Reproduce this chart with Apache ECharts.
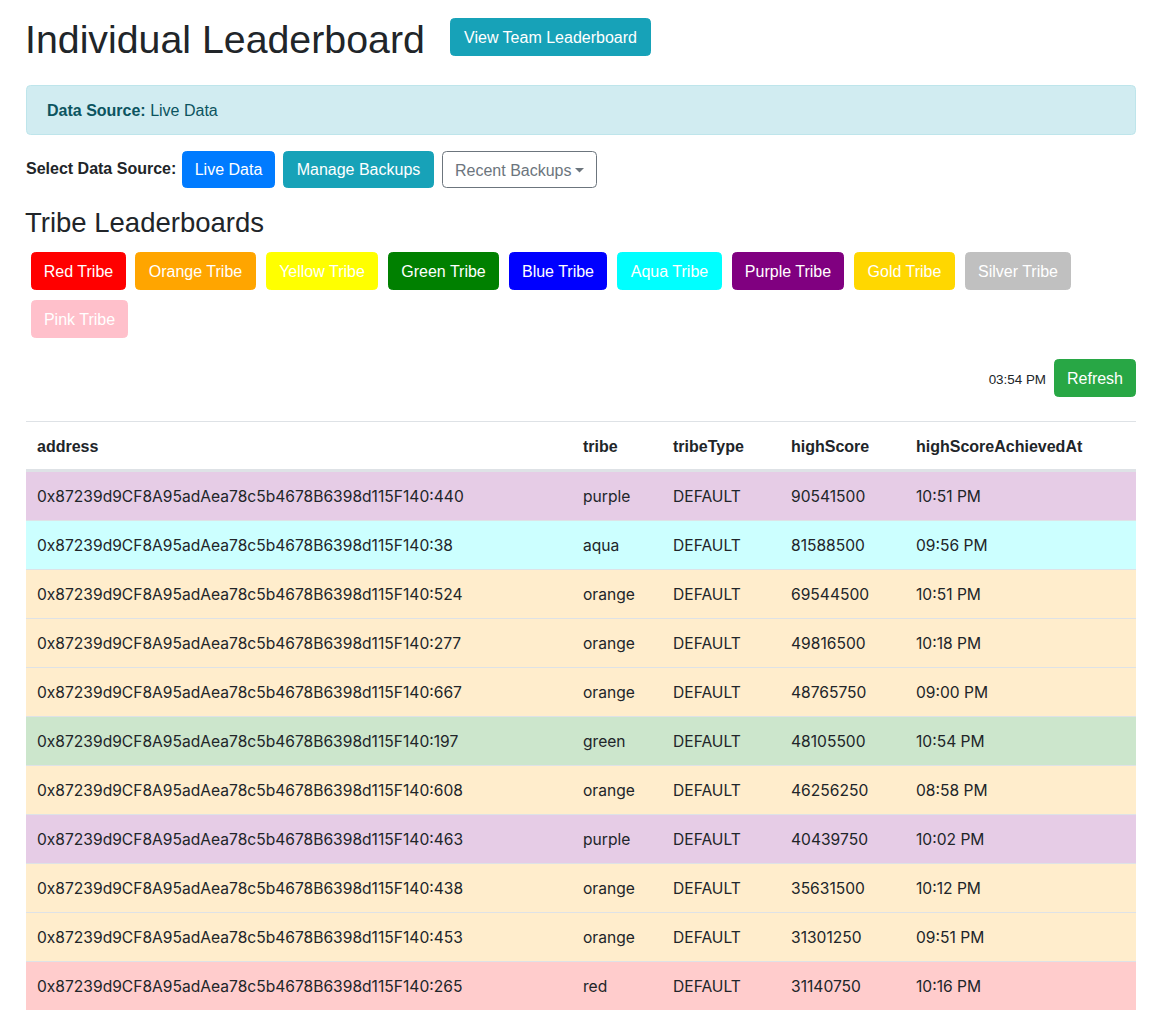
<!DOCTYPE html>
<html>
<head>
<meta charset="utf-8">
<title>Individual Leaderboard</title>
<script src="https://cdn.jsdelivr.net/npm/echarts@6/dist/echarts.min.js"></script>
<style>
  html, body { margin: 0; padding: 0; background: #ffffff; }
  #board { width: 1171px; height: 1010px; }
</style>
</head>
<body>
<div id="board"></div>
<script>
// table data, top to bottom
var columns = ['address', 'tribe', 'tribeType', 'highScore', 'highScoreAchievedAt'];
var addresses = [
    '0x87239d9CF8A95adAea78c5b4678B6398d115F140:440',
    '0x87239d9CF8A95adAea78c5b4678B6398d115F140:38',
    '0x87239d9CF8A95adAea78c5b4678B6398d115F140:524',
    '0x87239d9CF8A95adAea78c5b4678B6398d115F140:277',
    '0x87239d9CF8A95adAea78c5b4678B6398d115F140:667',
    '0x87239d9CF8A95adAea78c5b4678B6398d115F140:197',
    '0x87239d9CF8A95adAea78c5b4678B6398d115F140:608',
    '0x87239d9CF8A95adAea78c5b4678B6398d115F140:463',
    '0x87239d9CF8A95adAea78c5b4678B6398d115F140:438',
    '0x87239d9CF8A95adAea78c5b4678B6398d115F140:453',
    '0x87239d9CF8A95adAea78c5b4678B6398d115F140:265'
];
var tribes = ['purple', 'aqua', 'orange', 'orange', 'orange', 'green', 'orange', 'purple', 'orange', 'orange', 'red'];
var tribeTypes = ['DEFAULT', 'DEFAULT', 'DEFAULT', 'DEFAULT', 'DEFAULT', 'DEFAULT', 'DEFAULT', 'DEFAULT', 'DEFAULT', 'DEFAULT', 'DEFAULT'];
var highScores = [90541500, 81588500, 69544500, 49816500, 48765750, 48105500, 46256250, 40439750, 35631500, 31301250, 31140750];
var achievedAt = ['10:51 PM', '09:56 PM', '10:51 PM', '10:18 PM', '09:00 PM', '10:54 PM', '08:58 PM', '10:02 PM', '10:12 PM', '09:51 PM', '10:16 PM'];

// tribe buttons
var tribeNames = ['Red Tribe', 'Orange Tribe', 'Yellow Tribe', 'Green Tribe', 'Blue Tribe',
    'Aqua Tribe', 'Purple Tribe', 'Gold Tribe', 'Silver Tribe', 'Pink Tribe'];
var tribeColors = {
    red: '#ff0000', orange: '#ffa500', yellow: '#ffff00', green: '#008000', blue: '#0000ff',
    aqua: '#00ffff', purple: '#800080', gold: '#ffd700', silver: '#c0c0c0', pink: '#ffc0cb'
};
var lastUpdated = '03:54 PM';
var dataSource = 'Live Data';

// layout (pixels)
var FONT = '"Liberation Sans", Arial, sans-serif';
var CELL_FONT = '15.6px Inter, "Liberation Sans", Arial, sans-serif';
var colOffsets = [11, 557, 647, 765, 890];
var tribeBtnBoxes = [
    [31, 252, 95], [135, 252, 121], [266, 252, 112], [388, 252, 111], [509, 252, 98],
    [617, 252, 105], [732, 252, 112], [854, 252, 101], [965, 252, 106], [31, 300, 97]
];

function hexAlpha(hex, a) {
    var n = parseInt(hex.slice(1), 16);
    return 'rgba(' + (n >> 16) + ',' + ((n >> 8) & 255) + ',' + (n & 255) + ',' + a + ')';
}

function txt(x, y, text, opts) {
    opts = opts || {};
    return {
        type: 'text',
        style: {
            x: x, y: y, text: text,
            fill: opts.fill || '#212529',
            font: (opts.weight || 'normal') + ' ' + (opts.size || 16) + 'px ' + FONT,
            align: opts.align || 'left', textAlign: opts.align || 'left',
            verticalAlign: 'middle', textVerticalAlign: 'middle'
        }
    };
}

function button(x, y, w, h, fill, label, textColor, stroke) {
    return {
        type: 'group',
        children: [
            {
                type: 'rect',
                shape: { x: x + 0.5, y: y + 0.5, width: w - 1, height: h - 1, r: 4 },
                style: { fill: fill, stroke: stroke || fill, lineWidth: 1 }
            },
            txt(x + w / 2, y + h / 2, label, { fill: textColor || '#ffffff', align: 'center' })
        ]
    };
}

var graphics = [];
graphics.push(txt(25, 39, 'Individual Leaderboard', { size: 39.3 }));
graphics.push(button(450, 18, 201, 38, '#17a2b8', 'View Team Leaderboard'));

graphics.push({
    type: 'rect',
    shape: { x: 26.5, y: 85.5, width: 1109, height: 49, r: 4 },
    style: { fill: '#d1ecf1', stroke: '#bee5eb', lineWidth: 1 }
});
graphics.push({
    type: 'text',
    style: {
        x: 47, y: 110,
        text: '{b|Data Source:} ' + dataSource,
        fill: '#0c5460', font: '16px ' + FONT,
        verticalAlign: 'middle', textVerticalAlign: 'middle',
        rich: { b: { fontWeight: 'bold', fontSize: 16, fontFamily: FONT, fill: '#0c5460', color: '#0c5460' } }
    }
});

graphics.push(txt(26, 168, 'Select Data Source:', { weight: 'bold', size: 16 }));
graphics.push(button(182, 151, 93, 37, '#007bff', 'Live Data'));
graphics.push(button(283, 151, 151, 37, '#17a2b8', 'Manage Backups'));
graphics.push({
    type: 'group',
    children: [
        {
            type: 'rect',
            shape: { x: 442.5, y: 151.5, width: 154, height: 36, r: 4 },
            style: { fill: '#ffffff', stroke: '#6c757d', lineWidth: 1 }
        },
        txt(455, 170, 'Recent Backups', { fill: '#6c757d' }),
        {
            type: 'polygon',
            shape: { points: [[575, 168], [584, 168], [579.5, 172.5]] },
            style: { fill: '#6c757d' }
        }
    ]
});

graphics.push(txt(25, 222, 'Tribe Leaderboards', { size: 27.5 }));
tribeNames.forEach(function (name, i) {
    var b = tribeBtnBoxes[i];
    var key = name.split(' ')[0].toLowerCase();
    graphics.push(button(b[0], b[1], b[2], 38, tribeColors[key], name));
});

graphics.push(txt(1046, 379, lastUpdated, { size: 13.4, align: 'right' }));
graphics.push(button(1054, 359, 82, 38, '#28a745', 'Refresh'));

// table head
graphics.push({ type: 'rect', shape: { x: 26, y: 421, width: 1110, height: 1 }, style: { fill: '#dee2e6' } });
columns.forEach(function (c, i) {
    graphics.push(txt(26 + colOffsets[i], 446, c, { weight: 'bold' }));
});
graphics.push({ type: 'rect', shape: { x: 26, y: 469, width: 1110, height: 2 }, style: { fill: '#dee2e6' } });

var rows = addresses.map(function (a, i) { return [0, i]; });

function renderRow(params, api) {
    var i = api.value(1);
    var c = api.coord([0, i]);
    var h = api.size([0, 1])[1];
    var cs = params.coordSys;
    var top = c[1] - h / 2;
    var cells = [addresses[i], tribes[i], tribeTypes[i], String(highScores[i]), achievedAt[i]];
    var children = [
        {
            type: 'rect',
            shape: { x: cs.x, y: top, width: cs.width, height: h },
            style: { fill: hexAlpha(tribeColors[tribes[i]], 0.2) }
        },
        {
            type: 'rect',
            shape: { x: cs.x, y: top, width: cs.width, height: 1 },
            style: { fill: '#dee2e6' }
        }
    ];
    cells.forEach(function (v, k) {
        children.push({
            type: 'text',
            style: {
                x: cs.x + colOffsets[k], y: top + h / 2 + 0.5, text: v,
                fill: '#212529', font: CELL_FONT,
                align: 'left', textAlign: 'left',
                verticalAlign: 'middle', textVerticalAlign: 'middle'
            }
        });
    });
    return { type: 'group', children: children };
}

var chart = echarts.init(document.getElementById('board'), null, { renderer: 'svg' });
var option = {
    backgroundColor: '#ffffff',
    animation: false,
    grid: { left: 26, right: 35, top: 471, bottom: 0 },
    xAxis: { type: 'value', min: 0, max: 1, show: false },
    yAxis: { type: 'category', data: addresses, inverse: true, show: false },
    graphic: graphics,
    series: [{
        type: 'custom',
        renderItem: renderRow,
        data: rows,
        encode: { x: 0, y: 1 },
        silent: true
    }]
};
chart.setOption(option);
</script>
</body>
</html>
